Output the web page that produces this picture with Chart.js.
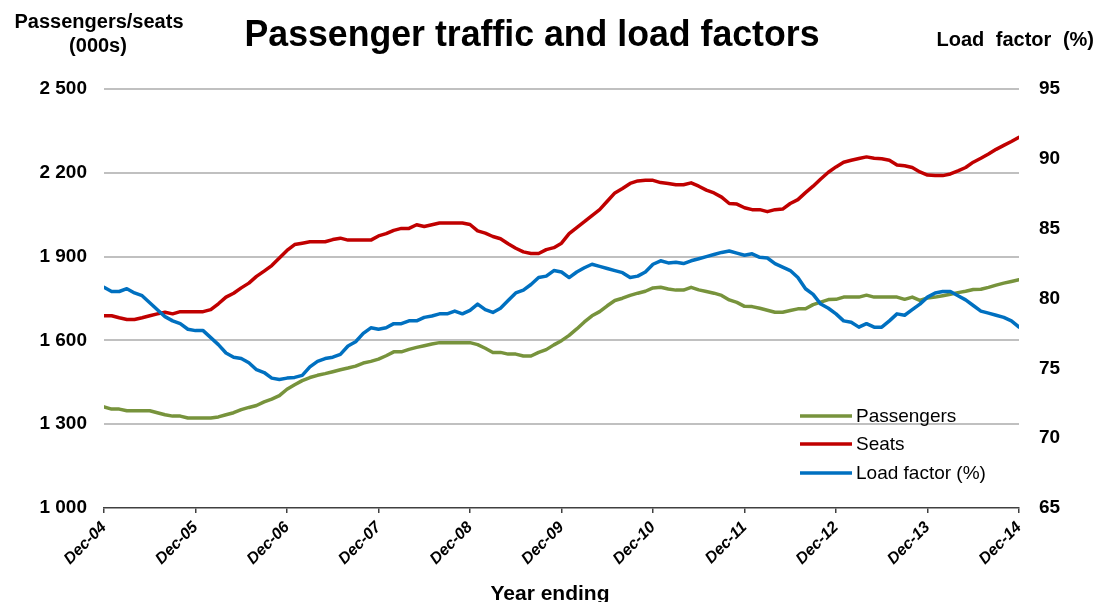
<!DOCTYPE html>
<html>
<head>
<meta charset="utf-8">
<title>Passenger traffic and load factors</title>
<script src="https://cdn.jsdelivr.net/npm/chart.js@4.4.1/dist/chart.umd.min.js"></script>
<style>
  html, body { margin: 0; padding: 0; background: #fff; }
  canvas { display: block; }
</style>
</head>
<body>
<canvas id="trafficChart" width="1099" height="602"></canvas>
<script>
// Monthly series, Dec-04 .. Dec-14 (index = months since Dec-04)
const yearLabels = ['Dec-04', 'Dec-05', 'Dec-06', 'Dec-07', 'Dec-08', 'Dec-09', 'Dec-10', 'Dec-11', 'Dec-12', 'Dec-13', 'Dec-14'];

const passengers = [
  1362, 1354, 1354, 1348, 1348, 1348, 1348, 1341, 1334, 1329, 1329, 1322,
  1322, 1322, 1322, 1326, 1334, 1341, 1352, 1360, 1367, 1380, 1390, 1402,
  1425, 1441, 1456, 1467, 1475, 1481, 1488, 1495, 1501, 1508, 1519, 1525,
  1533, 1545, 1559, 1559, 1568, 1575, 1581, 1587, 1592, 1592, 1592, 1592,
  1592, 1585, 1572, 1557, 1557, 1551, 1551, 1544, 1544, 1557, 1567, 1584,
  1599, 1618, 1641, 1666, 1688, 1703, 1724, 1743, 1751, 1761, 1769, 1776,
  1788, 1790, 1784, 1780, 1780, 1790, 1781, 1775, 1769, 1761, 1745, 1736,
  1722, 1721, 1715, 1708, 1701, 1701, 1707, 1713, 1713, 1728, 1737, 1746,
  1747, 1755, 1755, 1755, 1762, 1755, 1755, 1755, 1755, 1747, 1755, 1743,
  1752, 1755, 1760, 1765, 1771, 1776, 1782, 1783, 1790, 1798, 1805, 1811,
  1817
];

const seats = [
  1688, 1688, 1681, 1675, 1675, 1681, 1688, 1695, 1701, 1695, 1703, 1703,
  1703, 1703, 1710, 1731, 1755, 1769, 1788, 1805, 1829, 1848, 1868, 1895,
  1922, 1943, 1948, 1953, 1953, 1953, 1961, 1966, 1959, 1959, 1959, 1959,
  1974, 1982, 1994, 2001, 2001, 2014, 2008, 2014, 2020, 2020, 2020, 2020,
  2015, 1992, 1984, 1972, 1964, 1946, 1930, 1917, 1911, 1911, 1925, 1932,
  1948, 1982, 2004, 2025, 2047, 2068, 2098, 2128, 2144, 2162, 2171, 2173,
  2173, 2165, 2162, 2157, 2157, 2164, 2152, 2138, 2128, 2113, 2090, 2088,
  2075, 2068, 2068, 2061, 2068, 2070, 2090, 2104, 2129, 2152, 2178, 2202,
  2221, 2238, 2245, 2251, 2257, 2252, 2250, 2245, 2228, 2225, 2219, 2203,
  2192, 2190, 2190, 2196, 2207, 2219, 2238, 2252, 2267, 2284, 2298, 2312,
  2327
];

const loadFactor = [
  80.8, 80.5, 80.5, 80.7, 80.4, 80.2, 79.7, 79.2, 78.7, 78.4, 78.2, 77.8,
  77.7, 77.7, 77.2, 76.7, 76.1, 75.8, 75.7, 75.4, 74.9, 74.7, 74.3, 74.2,
  74.3, 74.35, 74.5, 75.1, 75.5, 75.7, 75.8, 76.0, 76.6, 76.9, 77.5, 77.9,
  77.8, 77.9, 78.2, 78.2, 78.4, 78.4, 78.65, 78.75, 78.9, 78.9, 79.1, 78.9,
  79.15, 79.6, 79.2, 79.0, 79.3, 79.85, 80.4, 80.6, 81.0, 81.5, 81.6, 82.0,
  81.9, 81.5, 81.9, 82.2, 82.45, 82.3, 82.15, 82.0, 81.85, 81.5, 81.6, 81.9,
  82.45, 82.7, 82.55, 82.6, 82.5, 82.7, 82.85, 83.0, 83.15, 83.3, 83.4, 83.25,
  83.1, 83.2, 82.95, 82.9, 82.5, 82.25, 82.0, 81.5, 80.7, 80.3, 79.6, 79.3,
  78.9, 78.4, 78.3, 77.95, 78.2, 77.95, 77.95, 78.4, 78.9, 78.8, 79.2, 79.6,
  80.1, 80.4, 80.5, 80.5, 80.2, 79.9, 79.5, 79.1, 78.95, 78.8, 78.65, 78.4,
  77.95
];

const FONT = 'Arial, "Liberation Sans", sans-serif';

function toPoints(values) {
  return values.map((v, i) => ({ x: i, y: v }));
}

function formatThousands(v) {
  const th = Math.floor(v / 1000);
  const rest = String(v % 1000).padStart(3, '0');
  return th > 0 ? th + ' ' + rest : String(v);
}

// Titles and in-plot legend
const decorations = {
  id: 'decorations',
  afterDraw(chart) {
    const ctx = chart.ctx;
    ctx.save();
    ctx.fillStyle = '#000';

    // main title
    ctx.font = 'bold 36px ' + FONT;
    ctx.textAlign = 'center';
    ctx.textBaseline = 'alphabetic';
    ctx.fillText('Passenger traffic and load factors', 532, 46, 575);

    // left axis title
    ctx.font = 'bold 20px ' + FONT;
    ctx.fillText('Passengers/seats', 99, 28, 172);
    ctx.fillText('(000s)', 98, 52);

    // right axis title
    ctx.textAlign = 'right';
    ctx.wordSpacing = '6px';
    ctx.fillText('Load factor (%)', 1094, 46);
    ctx.wordSpacing = '0px';

    // x axis title
    ctx.textAlign = 'center';
    ctx.font = 'bold 21px ' + FONT;
    ctx.fillText('Year ending', 550, 600);

    // legend
    ctx.font = '19px ' + FONT;
    ctx.textAlign = 'left';
    ctx.textBaseline = 'middle';
    const rows = [416, 444, 473];
    chart.data.datasets.forEach((ds, i) => {
      const y = rows[i];
      ctx.strokeStyle = ds.borderColor;
      ctx.lineWidth = 3.5;
      ctx.beginPath();
      ctx.moveTo(800, y);
      ctx.lineTo(852, y);
      ctx.stroke();
      ctx.fillText(ds.label, 856, y + 1);
    });
    ctx.restore();
  }
};

new Chart(document.getElementById('trafficChart'), {
  type: 'line',
  data: {
    datasets: [
      {
        label: 'Passengers',
        data: toPoints(passengers),
        borderColor: '#77933C',
        yAxisID: 'y',
        order: 3
      },
      {
        label: 'Seats',
        data: toPoints(seats),
        borderColor: '#C00000',
        yAxisID: 'y',
        order: 2
      },
      {
        label: 'Load factor (%)',
        data: toPoints(loadFactor),
        borderColor: '#0070C0',
        yAxisID: 'y1',
        order: 1
      }
    ]
  },
  options: {
    responsive: false,
    animation: false,
    devicePixelRatio: 1,
    layout: { padding: { top: 89, left: 0, right: 0, bottom: 0 } },
    elements: {
      point: { radius: 0 },
      line: { borderWidth: 3.5, tension: 0, borderCapStyle: 'round', borderJoinStyle: 'round' }
    },
    plugins: {
      legend: { display: false },
      tooltip: { enabled: false }
    },
    scales: {
      x: {
        type: 'linear',
        min: 0,
        max: 120,
        afterFit: (scale) => { scale.height = 94; },
        afterBuildTicks: (scale) => {
          scale.ticks = yearLabels.map((_, i) => ({ value: i * 12 }));
        },
        ticks: {
          autoSkip: false,
          maxRotation: 45,
          minRotation: 45,
          padding: 5,
          color: '#000',
          font: { family: FONT, size: 16, weight: 'bold', style: 'italic' },
          callback: (v) => yearLabels[v / 12]
        },
        grid: {
          drawOnChartArea: false,
          drawTicks: true,
          tickLength: 5,
          color: '#404040',
          lineWidth: 1.5
        },
        border: { display: true, color: '#404040', width: 1.5 }
      },
      y: {
        position: 'left',
        min: 1000,
        max: 2500,
        afterFit: (scale) => { scale.width = 104; },
        ticks: {
          stepSize: 300,
          padding: 17,
          color: '#000',
          font: { family: FONT, size: 19, weight: 'bold' },
          callback: (v) => formatThousands(v)
        },
        grid: {
          drawTicks: false,
          color: (c) => (c.tick && c.tick.value === 1000) ? 'rgba(0,0,0,0)' : '#C0C0C0',
          lineWidth: 2
        },
        border: { display: false }
      },
      y1: {
        position: 'right',
        min: 65,
        max: 95,
        afterFit: (scale) => { scale.width = 80; },
        ticks: {
          stepSize: 5,
          padding: 20,
          color: '#000',
          font: { family: FONT, size: 19, weight: 'bold' }
        },
        grid: { drawOnChartArea: false, drawTicks: false },
        border: { display: false }
      }
    }
  },
  plugins: [decorations]
});
</script>
</body>
</html>
